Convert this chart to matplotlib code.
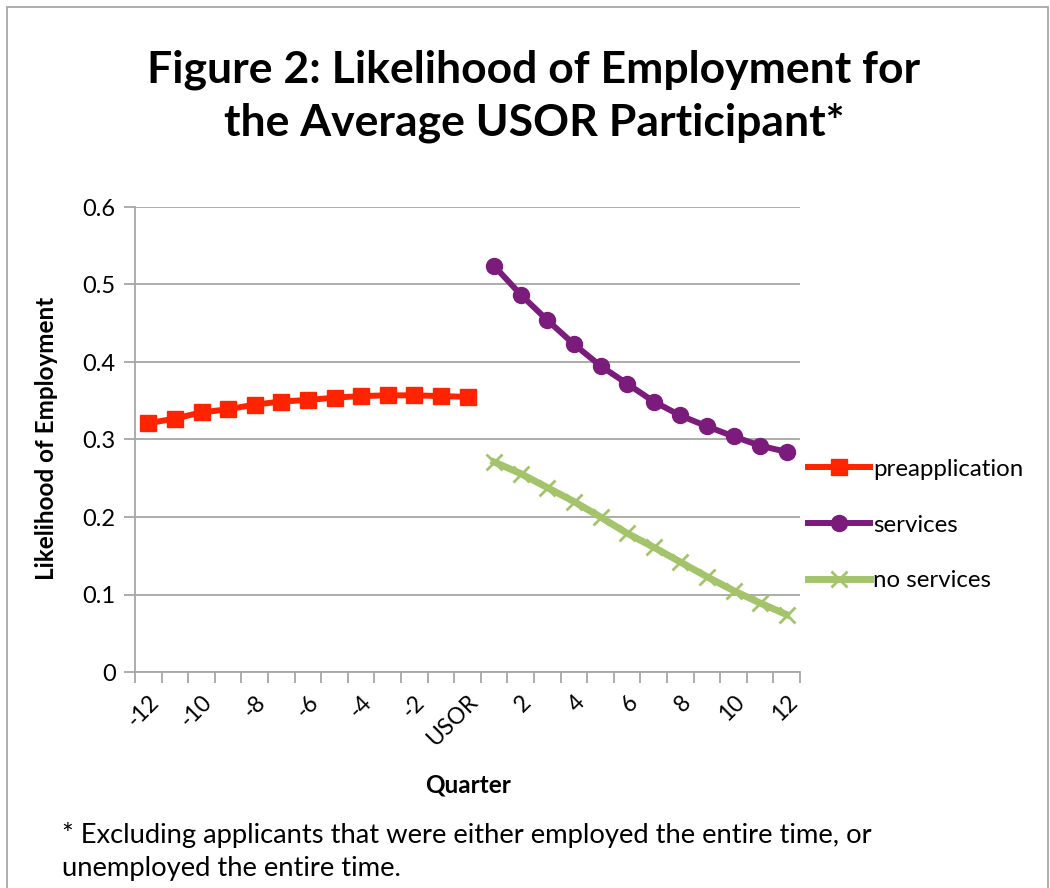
import matplotlib
matplotlib.use("Agg")
from matplotlib import pyplot as plt
from matplotlib.patches import Rectangle
import numpy as np

plt.rcParams['font.family'] = ['Lato', 'DejaVu Sans']

# quarter categories, -12 .. USOR .. 12
quarters = [str(q) for q in range(-12, 0)] + ['USOR'] + [str(q) for q in range(1, 13)]
tick_labels = ['-12', '-10', '-8', '-6', '-4', '-2', 'USOR', '2', '4', '6', '8', '10', '12']

preapplication = [0.321, 0.327, 0.335, 0.339, 0.345, 0.349, 0.351,
                  0.354, 0.356, 0.357, 0.357, 0.356, 0.355]
services = [0.524, 0.487, 0.454, 0.423, 0.395, 0.372,
            0.349, 0.331, 0.317, 0.304, 0.292, 0.284]
no_services = [0.271, 0.256, 0.238, 0.220, 0.200, 0.179,
               0.161, 0.142, 0.123, 0.105, 0.089, 0.074]

red = '#FF2400'
purple = '#7B1B7B'
green = '#A4C46B'
grey = '#A6A6A6'

fig = plt.figure(figsize=(10.5, 8.88), dpi=100)
fig.patches.append(Rectangle((7 / 1050, -0.1), 1041 / 1050, 1.1 - 7 / 888,
                             transform=fig.transFigure, fill=False,
                             edgecolor='#A0A0A0', linewidth=1.2))

ax = fig.add_axes([135 / 1050, 1 - 672 / 888, 665 / 1050, 465 / 888])

x_pre = np.arange(0, 13)
x_post = np.arange(13, 25)

ax.plot(x_pre, preapplication, color=red, linewidth=4.3, marker='s',
        markersize=11, label='preapplication')
ax.plot(x_post, services, color=purple, linewidth=4.3, marker='o',
        markersize=11.5, label='services')
ax.plot(x_post, no_services, color=green, linewidth=5, marker='x',
        markersize=11, markeredgewidth=2, label='no services')

ax.set_xlim(-0.5, 24.5)
ax.set_ylim(0, 0.6)
ax.set_yticks(np.arange(0, 0.61, 0.1))
ax.set_yticklabels(['0', '0.1', '0.2', '0.3', '0.4', '0.5', '0.6'], fontsize=17)
ax.yaxis.grid(True, color=grey, linewidth=1.3)
ax.set_axisbelow(True)

# ticks between categories, labels on every other category
ax.set_xticks(np.arange(-0.5, 25, 1))
ax.set_xticklabels([])
ax.set_xticks(np.arange(0, 25, 2), minor=True)
ax.set_xticklabels(tick_labels, minor=True, rotation=45, ha='right',
                   rotation_mode='anchor', fontsize=16.5)
ax.tick_params(axis='x', which='major', length=8, color=grey, width=1.3)
ax.tick_params(axis='x', which='minor', length=0, pad=14)
ax.tick_params(axis='y', length=8, color=grey, width=1.3, pad=6)

for s in ['top', 'right']:
    ax.spines[s].set_visible(False)
for s in ['left', 'bottom']:
    ax.spines[s].set_color(grey)
    ax.spines[s].set_linewidth(1.3)

fig.text(47 / 1050, 1 - 438 / 888, 'Likelihood of Employment', rotation=90,
         ha='center', va='center', fontsize=17.5, fontweight='bold')
fig.text(468 / 1050, 1 - 785 / 888, 'Quarter', ha='center', va='center',
         fontsize=17.5, fontweight='bold')

fig.text(534 / 1050, 1 - 70 / 888, 'Figure 2: Likelihood of Employment for',
         ha='center', va='center', fontsize=32, fontweight='bold')
fig.text(534 / 1050, 1 - 123 / 888, 'the Average USOR Participant*',
         ha='center', va='center', fontsize=32, fontweight='bold')

fig.text(62 / 1050, 1 - 835 / 888,
         '* Excluding applicants that were either employed the entire time, or',
         ha='left', va='center', fontsize=19.7)
fig.text(62 / 1050, 1 - 868 / 888, 'unemployed the entire time.',
         ha='left', va='center', fontsize=19.7)

ax.legend(loc='center left', bbox_to_anchor=(808 / 1050, 1 - 525 / 888),
          bbox_transform=fig.transFigure, frameon=False, fontsize=17.3,
          handlelength=2.6, handletextpad=0.1, labelspacing=1.45,
          borderaxespad=0, borderpad=0)

fig.savefig('out.png', dpi=100)
